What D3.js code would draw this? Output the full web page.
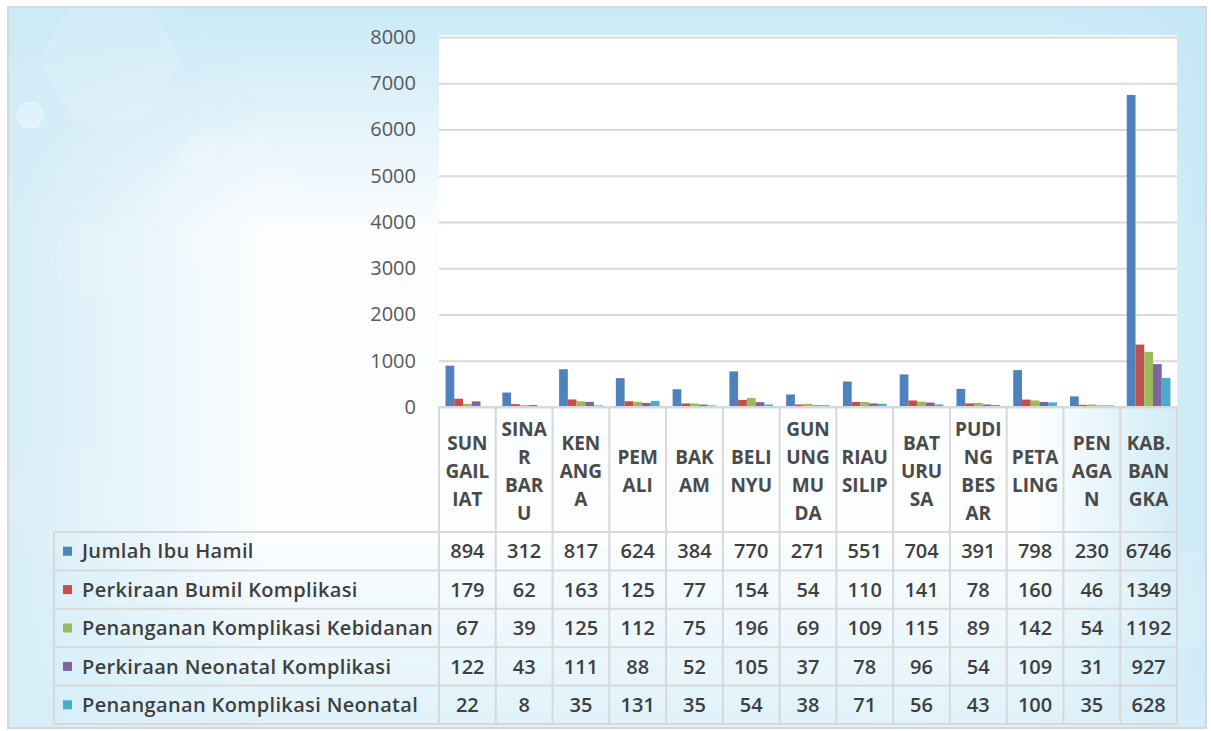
<!DOCTYPE html>
<html>
<head>
<meta charset="utf-8">
<script src="https://cdn.jsdelivr.net/npm/d3@7"></script>
<style>
  body { margin: 0; background: #fff; }
  svg { display: block; }
  text { font-family: "Open Sans", sans-serif; }
</style>
</head>
<body>
<svg id="chart" width="1211" height="731"></svg>
<script>
// categories (kecamatan) and how the labels wrap in the table header
const categories = ["SUNGAILIAT", "SINAR BARU", "KENANGA", "PEMALI", "BAKAM", "BELINYU",
  "GUNUNG MUDA", "RIAU SILIP", "BATURUSA", "PUDING BESAR", "PETALING", "PENAGAN", "KAB. BANGKA"];
const categoryLines = [["SUN", "GAIL", "IAT"], ["SINA", "R", "BAR", "U"], ["KEN", "ANG", "A"],
  ["PEM", "ALI"], ["BAK", "AM"], ["BELI", "NYU"], ["GUN", "UNG", "MU", "DA"], ["RIAU", "SILIP"],
  ["BAT", "URU", "SA"], ["PUDI", "NG", "BES", "AR"], ["PETA", "LING"], ["PEN", "AGA", "N"],
  ["KAB.", "BAN", "GKA"]];

const seriesNames = ["Jumlah Ibu Hamil", "Perkiraan Bumil Komplikasi", "Penanganan Komplikasi Kebidanan",
  "Perkiraan Neonatal Komplikasi", "Penanganan Komplikasi Neonatal"];
const jumlahIbuHamil = [894, 312, 817, 624, 384, 770, 271, 551, 704, 391, 798, 230, 6746];
const perkiraanBumil = [179, 62, 163, 125, 77, 154, 54, 110, 141, 78, 160, 46, 1349];
const penangananKebidanan = [67, 39, 125, 112, 75, 196, 69, 109, 115, 89, 142, 54, 1192];
const perkiraanNeonatal = [122, 43, 111, 88, 52, 105, 37, 78, 96, 54, 109, 31, 927];
const penangananNeonatal = [22, 8, 35, 131, 35, 54, 38, 71, 56, 43, 100, 35, 628];
const yTicks = [0, 1000, 2000, 3000, 4000, 5000, 6000, 7000, 8000];
const colors = ["#4f81bd", "#c0504d", "#9bbb59", "#8064a2", "#4bacc6"];

const seriesValues = [jumlahIbuHamil, perkiraanBumil, penangananKebidanan, perkiraanNeonatal, penangananNeonatal];
const series = seriesNames.map((name, i) => ({ name, color: colors[i], values: seriesValues[i] }));

const svg = d3.select("#chart");
const W = 1211, H = 731;
const plotLeft = 439, plotRight = 1177, plotTop = 37, zeroY = 407;
const tableLeft = 54, headerBottom = 532, tableBottom = 724;

// ---- background ----
const defs = svg.append("defs");
function linGrad(id, x1, y1, x2, y2, color, op) {
  const g = defs.append("linearGradient").attr("id", id)
    .attr("gradientUnits", "userSpaceOnUse")
    .attr("x1", x1).attr("y1", y1).attr("x2", x2).attr("y2", y2);
  g.append("stop").attr("offset", 0).attr("stop-color", color).attr("stop-opacity", op);
  g.append("stop").attr("offset", 1).attr("stop-color", color).attr("stop-opacity", 0);
}
linGrad("gTop", 0, 8, 0, 230, "#c8e8f7", 0.95);
linGrad("gLeft", 8, 0, 260, 0, "#cfeaf7", 0.85);
linGrad("gRight", 1206, 0, 1040, 0, "#c4e6f6", 0.9);
linGrad("gBottom", 0, 728, 0, 540, "#d6eef9", 0.75);

svg.append("rect").attr("width", W).attr("height", H).attr("fill", "#fff");
const bg = svg.append("g");
bg.append("rect").attr("x", 8).attr("y", 7).attr("width", 1198).attr("height", 721).attr("fill", "#fbfdfe");
["gTop", "gLeft", "gRight", "gBottom"].forEach(id =>
  bg.append("rect").attr("x", 8).attr("y", 7).attr("width", 1198).attr("height", 721).attr("fill", `url(#${id})`));

// faint hexagons of the stock background
const hex = (cx, cy, r) => d3.range(6).map(k => {
  const a = Math.PI / 3 * k;
  return [cx + r * Math.cos(a), cy + r * Math.sin(a)];
});
const hexes = [[110, 60, 70, 0.12], [230, 200, 75, 0.1], [30, 115, 14, 0.3], [200, 155, 20, 0.12],
  [90, 260, 40, 0.08], [1170, 600, 55, 0.15], [1140, 530, 25, 0.1], [60, 500, 60, 0.08], [900, 700, 45, 0.08]];
hexes.forEach(([cx, cy, r, o]) => {
  bg.append("path").attr("d", d3.line()(hex(cx, cy, r)) + "Z")
    .attr("fill", "#ffffff").attr("fill-opacity", o)
    .attr("stroke", "#ffffff").attr("stroke-opacity", o * 2);
});

svg.append("rect").attr("x", 8).attr("y", 7).attr("width", 1198).attr("height", 721)
  .attr("fill", "none").attr("stroke", "#d4d8da").attr("stroke-width", 2);

// ---- scales ----
const x0 = d3.scaleBand().domain(categories).range([plotLeft, plotRight]).padding(0);
const x1 = d3.scaleBand().domain(d3.range(series.length)).range([0, x0.bandwidth()])
  .paddingInner(0).paddingOuter(0.75);
const y = d3.scaleLinear().domain([0, 8000]).range([zeroY, plotTop]);

// plot area
svg.append("rect").attr("x", plotLeft).attr("y", plotTop - 2)
  .attr("width", plotRight - plotLeft).attr("height", zeroY - plotTop + 2).attr("fill", "#ffffff");

// gridlines
const grid = svg.append("g").attr("transform", `translate(${plotLeft},0)`)
  .call(d3.axisLeft(y).tickValues(yTicks).tickSize(-(plotRight - plotLeft)).tickFormat(""));
grid.select(".domain").remove();
grid.selectAll("line").attr("stroke", "#d9d9d9").attr("stroke-width", 2);

// y axis labels
const yAxis = svg.append("g").attr("transform", `translate(${plotLeft},0)`)
  .call(d3.axisLeft(y).tickValues(yTicks).tickSize(0).tickPadding(23).tickFormat(d3.format("d")));
yAxis.select(".domain").remove();
yAxis.selectAll("text").attr("font-size", 20).attr("fill", "#595959")
  .style("font-family", "'Open Sans', sans-serif");

// bars
const groups = svg.append("g").selectAll("g").data(categories).join("g")
  .attr("transform", d => `translate(${x0(d)},0)`);
groups.selectAll("rect")
  .data((c, ci) => series.map((s, si) => ({ si, v: s.values[ci], color: s.color })))
  .join("rect")
  .attr("x", d => x1(d.si))
  .attr("width", x1.bandwidth())
  .attr("y", d => y(d.v))
  .attr("height", d => y(0) - y(d.v))
  .attr("fill", d => d.color);

// ---- data table ----
const rowY = d3.scaleBand().domain(seriesNames).range([headerBottom, tableBottom]);
const table = svg.append("g");
const lineColor = "#d8d8d8";

// horizontal lines
table.append("line").attr("x1", plotLeft).attr("x2", plotRight).attr("y1", zeroY).attr("y2", zeroY)
  .attr("stroke", lineColor).attr("stroke-width", 2);
table.selectAll("line.h").data(seriesNames.concat(["end"])).join("line").attr("class", "h")
  .attr("x1", tableLeft).attr("x2", plotRight)
  .attr("y1", (d, i) => i < seriesNames.length ? rowY(d) : tableBottom)
  .attr("y2", (d, i) => i < seriesNames.length ? rowY(d) : tableBottom)
  .attr("stroke", lineColor).attr("stroke-width", 2);

// vertical lines
const colEdges = categories.map(c => x0(c)).concat([plotRight]);
table.selectAll("line.v").data(colEdges).join("line").attr("class", "v")
  .attr("x1", d => d).attr("x2", d => d).attr("y1", zeroY).attr("y2", tableBottom)
  .attr("stroke", lineColor).attr("stroke-width", 2);
table.append("line").attr("x1", tableLeft).attr("x2", tableLeft).attr("y1", headerBottom).attr("y2", tableBottom)
  .attr("stroke", lineColor).attr("stroke-width", 2);

// category header labels
const headerMid = (zeroY + headerBottom) / 2 + 2;
const lineH = 28;
categories.forEach((c, ci) => {
  const lines = categoryLines[ci];
  const t = table.append("text")
    .attr("x", x0(c) + x0.bandwidth() / 2)
    .attr("text-anchor", "middle")
    .attr("font-size", 19).attr("font-weight", 700).attr("fill", "#4a4a4a");
  lines.forEach((ln, li) => {
    t.append("tspan").attr("x", x0(c) + x0.bandwidth() / 2)
      .attr("y", headerMid + (li - (lines.length - 1) / 2) * lineH)
      .attr("dy", "0.36em").text(ln);
  });
});

// row labels with legend keys
series.forEach(s => {
  const cy = rowY(s.name) + rowY.bandwidth() / 2;
  table.append("rect").attr("x", 63).attr("y", cy - 4.5).attr("width", 9).attr("height", 9).attr("fill", s.color);
  table.append("text").attr("x", 82).attr("y", cy).attr("dy", "0.36em")
    .attr("font-size", 20).attr("font-weight", 600).attr("letter-spacing", 0.35)
    .attr("fill", "#3f3f3f").text(s.name);
});

// values
series.forEach(s => {
  const cy = rowY(s.name) + rowY.bandwidth() / 2;
  table.selectAll(null).data(categories).join("text")
    .attr("x", c => x0(c) + x0.bandwidth() / 2)
    .attr("y", cy).attr("dy", "0.36em")
    .attr("text-anchor", "middle")
    .attr("font-size", 20).attr("font-weight", 600).attr("fill", "#3f3f3f")
    .text((c, ci) => s.values[ci]);
});
</script>
</body>
</html>
